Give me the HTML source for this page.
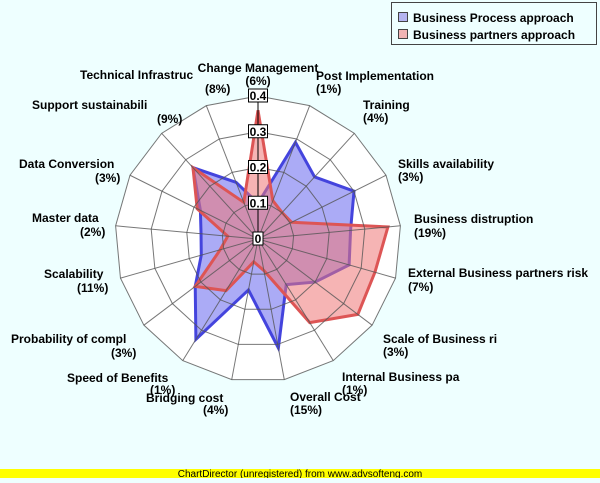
<!DOCTYPE html>
<html><head><meta charset="utf-8"><style>
html,body{margin:0;padding:0;background:#eeffff;}
svg text{font-family:"Liberation Sans",Arial,sans-serif;font-weight:bold;font-size:12px;fill:#000;}
</style></head><body>
<svg id="s" width="600" height="478" xmlns="http://www.w3.org/2000/svg">
<rect x="0" y="0" width="600" height="478" fill="#eeffff"/>
<g id="bg"></g>
<g id="data"></g>
<g id="grid"></g>
<g id="axlab"></g>
<g transform="translate(0,-4)">
<text x="258" y="76" text-anchor="middle">Change Management</text>
<text x="258" y="89" text-anchor="middle">(6%)</text>
<text x="316" y="84">Post Implementation</text>
<text x="316" y="97">(1%)</text>
<text x="363" y="113">Training</text>
<text x="363" y="126">(4%)</text>
<text x="398" y="172">Skills availability</text>
<text x="398" y="185">(3%)</text>
<text x="414" y="227">Business distruption</text>
<text x="414" y="241">(19%)</text>
<text x="408" y="281">External Business partners risk</text>
<text x="408" y="295">(7%)</text>
<text x="383" y="347">Scale of Business ri</text>
<text x="383" y="360">(3%)</text>
<text x="342" y="385">Internal Business pa</text>
<text x="342" y="398">(1%)</text>
<text x="290" y="405">Overall Cost</text>
<text x="290" y="418">(15%)</text>
<text x="146" y="406">Bridging cost</text>
<text x="203" y="418">(4%)</text>
<text x="67" y="386">Speed of Benefits</text>
<text x="150" y="398">(1%)</text>
<text x="11" y="347">Probability of compl</text>
<text x="111" y="361">(3%)</text>
<text x="44" y="282">Scalability</text>
<text x="77" y="296">(11%)</text>
<text x="32" y="226">Master data</text>
<text x="80" y="240">(2%)</text>
<text x="19" y="172">Data Conversion</text>
<text x="95" y="186">(3%)</text>
<text x="32" y="113">Support sustainabili</text>
<text x="157" y="127">(9%)</text>
<text x="80" y="83">Technical Infrastruc</text>
<text x="205" y="97">(8%)</text>
</g>
<rect x="391.5" y="2.5" width="205" height="42" fill="#eeffff" stroke="#444"/>
<rect x="398.5" y="12.5" width="9" height="9" fill="#b4b4f0" stroke="#444"/>
<text x="413" y="22">Business Process approach</text>
<rect x="398.5" y="29.5" width="9" height="9" fill="#f0b4b4" stroke="#444"/>
<text x="413" y="39">Business partners approach</text>
<rect x="0" y="469" width="600" height="9" fill="#ffff00"/>
<text x="300" y="477" text-anchor="middle" style="font-weight:normal;font-size:10px">ChartDirector (unregistered) from www.advsofteng.com</text>
</svg>
<script>
var cx=258,cy=239,R=143,N=17,NS="http://www.w3.org/2000/svg";
function pt(k,r){var a=k*2*Math.PI/N;return [cx+r*Math.sin(a),cy-r*Math.cos(a)];}
function el(t,at,p){var e=document.createElementNS(NS,t);for(var k in at)e.setAttribute(k,at[k]);p.appendChild(e);return e;}
var bg=document.getElementById('bg'),g=document.getElementById('grid');
var s0=[];for(var i=0;i<N;i++)s0.push(pt(i,R).join(','));
el('polygon',{points:s0.join(' '),fill:'#fff',stroke:'none'},bg);
for(var i=0;i<N;i++){var p=pt(i,R);el('line',{x1:cx,y1:cy,x2:p[0],y2:p[1],stroke:'#555','stroke-width':1,'stroke-opacity':0.8},g);}
for(var j=1;j<=4;j++){var s=[];for(var i=0;i<N;i++)s.push(pt(i,R*j/4).join(','));
el('polygon',{points:s.join(' '),fill:'none',stroke:'#555','stroke-width':1,'stroke-opacity':0.8},g);}
var blue=[0.10,0.29,0.235,0.30,0.26,0.265,0.20,0.15,0.31,0.145,0.33,0.22,0.165,0.16,0.18,0.27,0.17];
var red=[0.36,0.115,0.10,0.105,0.365,0.34,0.35,0.275,0.09,0.065,0.17,0.22,0.11,0.085,0.19,0.27,0.11];
var d=document.getElementById('data');
function poly(v,f,st){var s=[];for(var i=0;i<N;i++)s.push(pt(i,v[i]/0.4*R).join(','));
el('polygon',{points:s.join(' '),fill:f,'fill-opacity':0.55,stroke:st,'stroke-width':3,'stroke-linejoin':'miter'},d);}
poly(blue,'#6666ee','#4444dd');
poly(red,'#ee7777','#dd5555');
var a=document.getElementById('axlab');
el('line',{x1:cx,y1:cy,x2:cx,y2:cy-R,stroke:'#000','stroke-width':1},a);
var lab=['0','0.1','0.2','0.3','0.4'];
for(var j=0;j<5;j++){var y=cy-R*j/4;var w=j==0?10:19;
el('rect',{x:cx-w/2,y:y-7,width:w,height:13,fill:'#fff',stroke:'#000'},a);
var t=el('text',{x:cx,y:y+4,'text-anchor':'middle','font-size':'11'},a);t.textContent=lab[j];}
</script>
</body></html>
